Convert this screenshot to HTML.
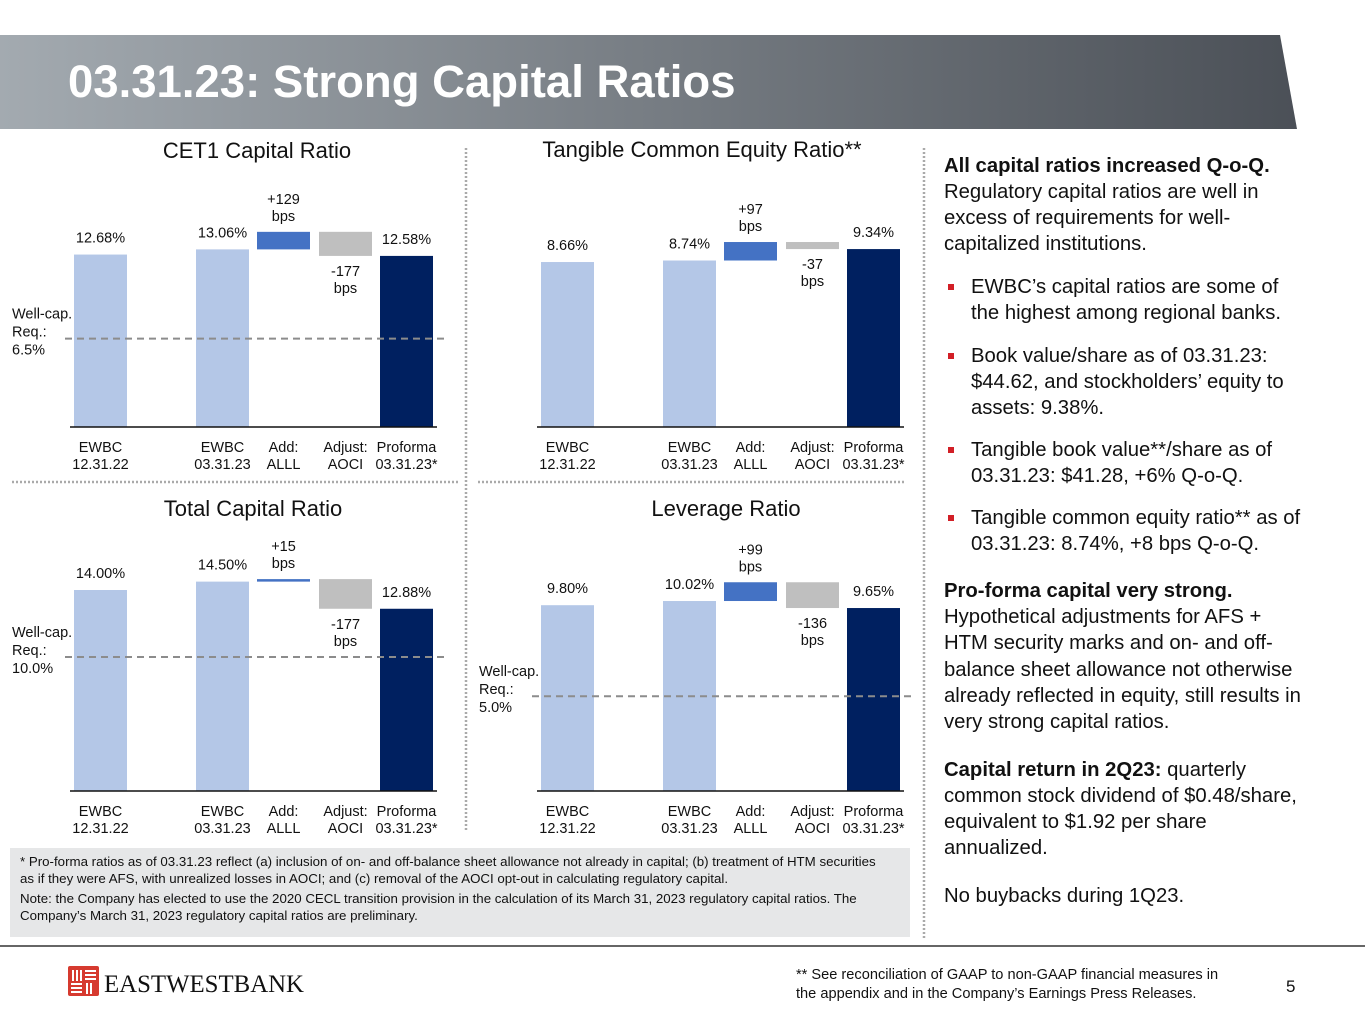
<!DOCTYPE html>
<html><head><meta charset="utf-8">
<style>
body{margin:0;width:1365px;height:1024px;position:relative;background:#fff;font-family:"Liberation Sans",Arial,sans-serif;overflow:hidden}
.abs{position:absolute}
#side{left:944px;top:153px;width:362px;font-size:20.3px;line-height:26.1px;color:#111}
#side p{margin:0 0 22px 0}
#side p.first{margin-bottom:17px}
#side ul{margin:0 0 21px 0;padding:0;list-style:none}
#side li{position:relative;padding-left:27px;margin-bottom:16px}
#side li:last-child{margin-bottom:0}
#side li:before{content:"";position:absolute;left:4px;top:10px;width:6px;height:6px;background:#d21f26}
#foot{left:10px;top:848px;width:862px;height:79px;background:#e6e7e8;padding:5px 28px 5px 10px;font-size:13.3px;line-height:17px;color:#111}
#foot p{margin:0 0 3px 0}
</style></head><body>
<svg class="abs" style="left:0;top:0" width="1365" height="1024">
<defs><linearGradient id="bg" x1="0" x2="1"><stop offset="0" stop-color="#a3aab0"/><stop offset="1" stop-color="#4b5057"/></linearGradient></defs>
<polygon points="0,35 1280,35 1297,129 0,129" fill="url(#bg)"/>
<text x="68" y="97" font-size="45.5" font-weight="bold" fill="#fff">03.31.23: Strong Capital Ratios</text>
<g stroke="#aaa" stroke-width="2.5" stroke-dasharray="2,2">
<line x1="466" y1="148" x2="466" y2="832"/><line x1="924" y1="148" x2="924" y2="940"/>
<line x1="12" y1="482" x2="460" y2="482"/><line x1="478" y1="482" x2="905" y2="482"/>
</g>
<line x1="0" y1="946" x2="1365" y2="946" stroke="#666" stroke-width="2"/>
<g id="charts"></g>
<g>
<rect x="68" y="966" width="31" height="30" rx="2" fill="#d63a2f"/>
<g stroke="#fff" stroke-width="2"><line x1="73" y1="970" x2="73" y2="981"/><line x1="77" y1="970" x2="77" y2="981"/><line x1="81" y1="970" x2="81" y2="981"/>
<line x1="85" y1="971" x2="96" y2="971"/><line x1="85" y1="975" x2="96" y2="975"/><line x1="85" y1="979" x2="96" y2="979"/>
<line x1="71" y1="984" x2="82" y2="984"/><line x1="71" y1="988" x2="82" y2="988"/><line x1="71" y1="992" x2="82" y2="992"/>
<line x1="87" y1="983" x2="87" y2="994"/><line x1="91" y1="983" x2="91" y2="994"/></g>
<text x="104" y="992" font-family="Liberation Serif,serif" font-size="25" fill="#111" textLength="200" lengthAdjust="spacingAndGlyphs">EASTWESTBANK</text>
</g>
<text x="796" y="979" font-size="14.6" fill="#111">** See reconciliation of GAAP to non-GAAP financial measures in</text>
<text x="796" y="998" font-size="14.6" fill="#111">the appendix and in the Company’s Earnings Press Releases.</text>
<text x="1286" y="992" font-size="17" fill="#111">5</text>
</svg>

<div id="side" class="abs">
<p class="first"><b>All capital ratios increased Q-o-Q.</b> Regulatory capital ratios are well in excess of requirements for well-capitalized institutions.</p>
<ul>
<li>EWBC’s capital ratios are some of the highest among regional banks.</li>
<li>Book value/share as of 03.31.23: $44.62, and stockholders’ equity to assets: 9.38%.</li>
<li>Tangible book value**/share as of 03.31.23: $41.28, +6% Q-o-Q.</li>
<li>Tangible common equity ratio** as of 03.31.23: 8.74%, +8 bps Q-o-Q.</li>
</ul>
<p><b>Pro-forma capital very strong.</b> Hypothetical adjustments for AFS + HTM security marks and on- and off-balance sheet allowance not otherwise already reflected in equity, still results in very strong capital ratios.</p>
<p><b>Capital return in 2Q23:</b> quarterly common stock dividend of $0.48/share, equivalent to $1.92 per share annualized.</p>
<p>No buybacks during 1Q23.</p>
</div>
<div id="foot" class="abs">
<p>* Pro-forma ratios as of 03.31.23 reflect (a) inclusion of on- and off-balance sheet allowance not already in capital; (b) treatment of HTM securities as if they were AFS, with unrealized losses in AOCI; and (c) removal of the AOCI opt-out in calculating regulatory capital.</p>
<p>Note: the Company has elected to use the 2020 CECL transition provision in the calculation of its March 31, 2023 regulatory capital ratios. The Company’s March 31, 2023 regulatory capital ratios are preliminary.</p>
</div>

<script>
const chartTitles=["CET1 Capital Ratio","Tangible Common Equity Ratio**","Total Capital Ratio","Leverage Ratio"];
const categories=[["EWBC","12.31.22"],["EWBC","03.31.23"],["Add:","ALLL"],["Adjust:","AOCI"],["Proforma","03.31.23*"]];
const prevValues=[12.68,8.66,14.00,9.80];
const currValues=[13.06,8.74,14.50,10.02];
const addBps=[129,97,15,99];
const adjustBps=[-177,-37,-177,-136];
const proformaValues=[12.58,9.34,12.88,9.65];
const wellCapReq=[6.5,null,10.0,5.0];
const domainMin=[0,0,2,0];
const pxPerPct=[13.6,19.05,16.75,18.96];

const NS="http://www.w3.org/2000/svg";
const g=document.getElementById('charts');
function mk(tag,attrs,parent){const e=document.createElementNS(NS,tag);for(const k in attrs)e.setAttribute(k,attrs[k]);(parent||g).appendChild(e);return e;}
function txt(x,y,s,size,anchor,parent,fill){const t=mk('text',{x:x,y:y,'font-size':size,'text-anchor':anchor||'middle',fill:fill||'#111'},parent);t.textContent=s;return t;}
const layouts=[{ox:0,base:427,ty:158,tx:257},{ox:467,base:427,ty:157,tx:702},{ox:0,base:791,ty:516,tx:253},{ox:467,base:791,ty:516,tx:726}];
const barX=[74,196,257,319,380];
for(let i=0;i<4;i++){
  const L=layouts[i];
  const grp=mk('g',{});
  
  
  const y=v=>L.base-(v-domainMin[i])*pxPerPct[i];
  const X=j=>L.ox+barX[j];
  const W=53;
  const ti=txt(L.tx,L.ty,chartTitles[i],22,'middle',grp);
  
  
  const t2=currValues[i]+addBps[i]/100;
  const bars=[[domainMin[i],prevValues[i],'#b4c7e7'],[domainMin[i],currValues[i],'#b4c7e7'],[currValues[i],t2,'#4472c4'],[t2+adjustBps[i]/100,t2,'#bfbfbf'],[domainMin[i],proformaValues[i],'#002060']];
  bars.forEach((b,j)=>{
    const yt=y(b[1]),yb=y(b[0]);
    const r=mk('rect',{x:X(j),y:yt,width:W,height:Math.max(1.5,yb-yt),fill:b[2]},grp);
    
    
  });
  const vals=[prevValues[i],currValues[i],null,null,proformaValues[i]];
  vals.forEach((v,j)=>{if(v!==null){const t=txt(X(j)+W/2,y(v)-12,v.toFixed(2)+'%',14.5,'middle',grp);}});
  const a1=txt(X(2)+W/2,y(t2)-28,'+'+addBps[i],14.5,'middle',grp);
  txt(X(2)+W/2,y(t2)-11,'bps',14.5,'middle',grp);
  const yl=y(t2+adjustBps[i]/100);
  const a2=txt(X(3)+W/2,yl+20,String(adjustBps[i]),14.5,'middle',grp);
  txt(X(3)+W/2,yl+37,'bps',14.5,'middle',grp);
  const ax=mk('line',{x1:L.ox+70,x2:L.ox+437,y1:L.base,y2:L.base,stroke:'#111','stroke-width':1.5},grp);
  
  categories.forEach((c,j)=>{
    const cx=X(j)+W/2;
    const t=txt(cx,L.base+25,c[0],14.5,'middle',grp);
    txt(cx,L.base+42,c[1],14.5,'middle',grp);
  });
  if(wellCapReq[i]!==null){
    const yw=y(wellCapReq[i]);
    const dl=mk('line',{x1:L.ox+65,x2:L.ox+445,y1:yw,y2:yw,stroke:'#8c8c8c','stroke-width':2,'stroke-dasharray':'7,5'},grp);
    
    const lt=txt(L.ox+12,yw-20,'Well-cap.',14.5,'start',grp);
    txt(L.ox+12,yw-2,'Req.:',14.5,'start',grp);
    txt(L.ox+12,yw+16,wellCapReq[i].toFixed(1)+'%',14.5,'start',grp);
  }
}
</script>
</body></html>
